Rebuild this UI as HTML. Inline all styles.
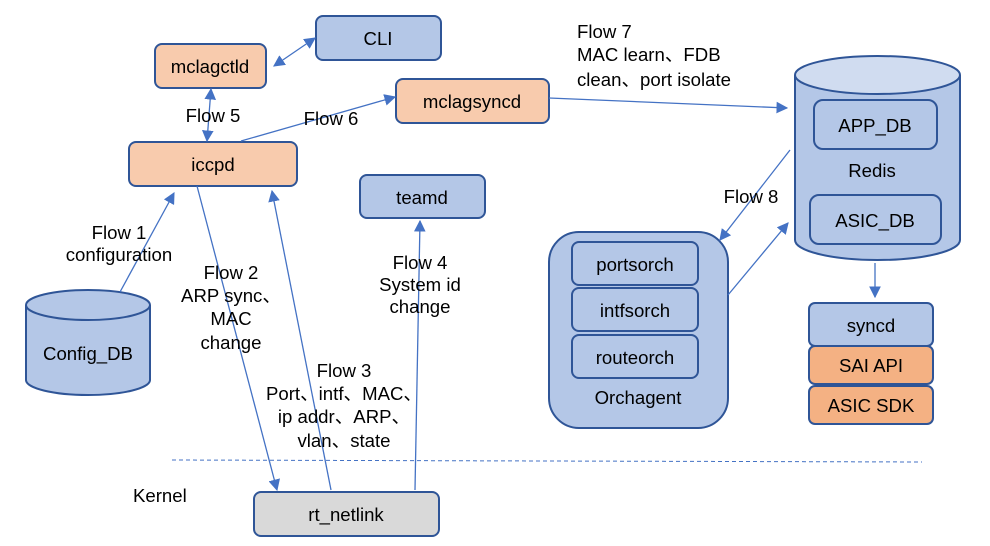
<!DOCTYPE html>
<html><head><style>body{margin:0;background:#fff}svg{display:block}text{font-family:"Liberation Sans","Noto Sans CJK SC",sans-serif;font-size:18.6px;fill:#000}</style></head><body>
<svg width="990" height="546" viewBox="0 0 990 546" xmlns="http://www.w3.org/2000/svg">
<defs><marker id="a" viewBox="0 0 10 10" refX="9" refY="5" markerWidth="9" markerHeight="9" orient="auto-start-reverse"><path d="M0,0L10,5L0,10z" fill="#4472c4"/></marker></defs>
<g stroke="#2f5597" stroke-width="2">
<rect x="316" y="16" width="125" height="44" rx="7" fill="#b4c7e7"/>
<rect x="155" y="44" width="111" height="44" rx="7" fill="#f8cbad"/>
<rect x="396" y="79" width="153" height="44" rx="7" fill="#f8cbad"/>
<rect x="129" y="142" width="168" height="44" rx="7" fill="#f8cbad"/>
<rect x="360" y="175" width="125" height="43" rx="7" fill="#b4c7e7"/>
<path d="M795,75 V240 A82.5,20 0 0 0 960,240 V75" fill="#b4c7e7"/>
<ellipse cx="877.5" cy="75" rx="82.5" ry="19" fill="#d0dcf0"/>
<rect x="814" y="100" width="123" height="49" rx="9" fill="#b4c7e7"/>
<rect x="810" y="195" width="131" height="49" rx="9" fill="#b4c7e7"/>
<rect x="549" y="232" width="179" height="196" rx="30" fill="#b4c7e7"/>
<rect x="572" y="242" width="126" height="43" rx="7" fill="#b4c7e7"/>
<rect x="572" y="288" width="126" height="43" rx="7" fill="#b4c7e7"/>
<rect x="572" y="335" width="126" height="43" rx="7" fill="#b4c7e7"/>
<rect x="809" y="303" width="124" height="43" rx="6" fill="#b4c7e7"/>
<rect x="809" y="346" width="124" height="38" rx="6" fill="#f4b183"/>
<rect x="809" y="386" width="124" height="38" rx="6" fill="#f4b183"/>
<path d="M26,305 V380 A62,15 0 0 0 150,380 V305" fill="#b4c7e7"/>
<ellipse cx="88" cy="305" rx="62" ry="15" fill="#b4c7e7"/>
<rect x="254" y="492" width="185" height="44" rx="7" fill="#d9d9d9"/>
</g>
<line x1="172" y1="460" x2="922" y2="462" stroke="#4472c4" stroke-dasharray="4,3"/>
<g stroke="#4472c4" stroke-width="1.3" fill="none" marker-end="url(#a)">
<line x1="274" y1="66" x2="315" y2="38" marker-start="url(#a)"/>
<line x1="211" y1="89" x2="207" y2="141" marker-start="url(#a)"/>
<line x1="241" y1="141" x2="395" y2="97"/>
<line x1="549" y1="98" x2="787" y2="108"/>
<line x1="790" y1="150" x2="720" y2="240"/>
<line x1="728" y1="295" x2="788" y2="223"/>
<line x1="875" y1="263" x2="875" y2="297"/>
<line x1="120" y1="292" x2="174" y2="193"/>
<line x1="197" y1="186" x2="277" y2="490"/>
<line x1="331" y1="490" x2="272" y2="191"/>
<line x1="415" y1="490" x2="420" y2="221"/>
</g>
<g text-anchor="middle">
<text x="378" y="45">CLI</text>
<text x="210" y="73">mclagctld</text>
<text x="472" y="108">mclagsyncd</text>
<text x="213" y="171">iccpd</text>
<text x="422" y="204">teamd</text>
<text x="875" y="132">APP_DB</text>
<text x="872" y="177">Redis</text>
<text x="875" y="227">ASIC_DB</text>
<text x="635" y="271">portsorch</text>
<text x="635" y="317">intfsorch</text>
<text x="635" y="364">routeorch</text>
<text x="638" y="404">Orchagent</text>
<text x="871" y="332">syncd</text>
<text x="871" y="372">SAI API</text>
<text x="871" y="412">ASIC SDK</text>
<text x="88" y="360">Config_DB</text>
<text x="346" y="521">rt_netlink</text>
<text x="213" y="122">Flow 5</text>
<text x="331" y="125">Flow 6</text>
<text x="119" y="239">Flow 1</text>
<text x="119" y="261">configuration</text>
<text x="231" y="279">Flow 2</text>
<text x="231" y="302">ARP sync、</text>
<text x="231" y="325">MAC</text>
<text x="231" y="349">change</text>
<text x="344" y="377">Flow 3</text>
<text x="344" y="400">Port、intf、MAC、</text>
<text x="344" y="423">ip addr、ARP、</text>
<text x="344" y="447">vlan、state</text>
<text x="420" y="269">Flow 4</text>
<text x="420" y="291">System id</text>
<text x="420" y="313">change</text>
<text x="751" y="203">Flow 8</text>
</g>
<text x="577" y="38">Flow 7</text>
<text x="577" y="61">MAC learn、FDB</text>
<text x="577" y="86">clean、port isolate</text>
<text x="133" y="502">Kernel</text>
</svg>
</body></html>
